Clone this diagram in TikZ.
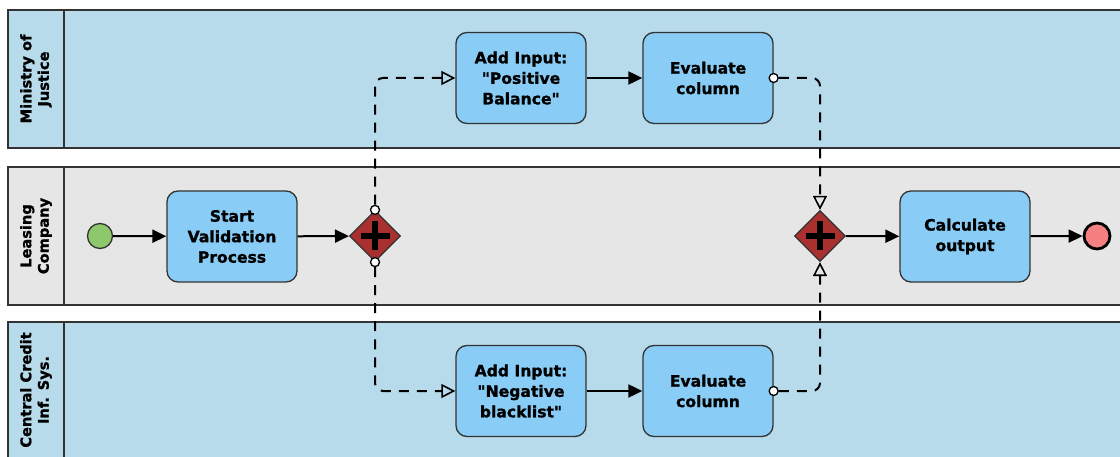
\documentclass[tikz,border=0pt]{standalone}
\usepackage{fontspec}
\setmainfont{DejaVu Sans}
\newfontfamily\heavysans[FakeBold=1.2]{DejaVu Sans Bold}
\usetikzlibrary{arrows.meta,shapes.geometric}

\definecolor{laneblue}{HTML}{B7DBEA}
\definecolor{lanegray}{HTML}{E6E6E6}
\definecolor{boxblue}{HTML}{89CCF6}
\definecolor{gwred}{HTML}{A8302E}
\definecolor{startgreen}{HTML}{8DC86D}
\definecolor{endred}{HTML}{F58080}
\definecolor{edgegray}{HTML}{333333}

\newcommand\taskfont{\heavysans\fontsize{15.6}{20.5}\selectfont}
\newcommand\lanefont{\heavysans\fontsize{14.6}{17.5}\selectfont}
\newcommand\dq{\textquotedbl}

\begin{document}
\begin{tikzpicture}[x=1pt,y=-1pt,
  lane/.style={draw=edgegray, line width=1.4pt},
  lanelabel/.style={rotate=90, align=center, font=\lanefont, inner sep=0pt},
  task/.style={rectangle, rounded corners=11pt, draw=edgegray, line width=1.3pt,
    fill=boxblue, minimum width=130pt, minimum height=91pt, align=center,
    font=\taskfont, inner sep=2pt},
  gateway/.style={diamond, draw=edgegray, line width=1.2pt, fill=gwred,
    minimum width=51pt, minimum height=51pt, inner sep=0pt},
  plusbar/.style={line width=6.5pt, black},
  startev/.style={circle, draw=edgegray, line width=1.3pt, fill=startgreen,
    minimum size=25pt, inner sep=0pt},
  endev/.style={circle, draw=black, line width=2.8pt, fill=endred,
    minimum size=26pt, inner sep=0pt},
  portdot/.style={circle, draw=black, line width=1.3pt, fill=white,
    minimum size=9pt, inner sep=0pt},
  seq/.style={line width=2pt, -{Triangle[length=14pt,width=13pt]}},
  msgflow/.style={line width=2pt, dash pattern=on 10pt off 8pt,
    rounded corners=8pt, -{Triangle[open,length=14pt,width=14pt,line width=1.6pt]}}
]
\useasboundingbox (0,0) rectangle (1120,457);
\clip (0,0) rectangle (1120,457);

% pools and lanes
\draw[lane, fill=laneblue] (8,10) rectangle (1135,148);
\draw[lane] (64,10) -- (64,148);
\node[lanelabel] (lmj) at (36,79) {Ministry of\\Justice};

\draw[lane, fill=lanegray] (8,167) rectangle (1135,305);
\draw[lane] (64,167) -- (64,305);
\node[lanelabel] (llc) at (36,236) {Leasing\\Company};

\draw[lane, fill=laneblue] (8,322) rectangle (1135,475);
\draw[lane] (64,322) -- (64,475);
\node[lanelabel] (lcc) at (36,390) {Central Credit\\Inf. Sys.};

% events, tasks and gateways
\node[startev] (s) at (100,236) {};
\node[task] (t1) at (232,236.5) {Start\\Validation\\Process};
\node[gateway] (g1) at (375,236) {};
\node[task] (t2) at (521,78) {Add Input:\\\dq Positive\\Balance\dq};
\node[task] (t3) at (708,78) {Evaluate\\column};
\node[task] (t4) at (521,391) {Add Input:\\\dq Negative\\blacklist\dq};
\node[task] (t5) at (708,391) {Evaluate\\column};
\node[gateway] (g2) at (820,236) {};
\node[task] (t6) at (965,236.5) {Calculate\\output};
\node[endev] (e) at (1097,236) {};

% parallel gateway markers
\foreach \g in {g1,g2}{
  \draw[plusbar] (\g.center) +(-14.5,0) -- +(14.5,0);
  \draw[plusbar] (\g.center) +(0,-14.5) -- +(0,14.5);
}

% sequence flows
\draw[seq] (s) -- (t1);
\draw[seq] (t1) -- (g1);
\draw[seq] (t2) -- (t3);
\draw[seq] (t4) -- (t5);
\draw[seq] (g2) -- (t6);
\draw[seq] (t6) -- (e);

% message flows
\node[portdot] (d1) at (g1.north) {};
\node[portdot] (d2) at (g1.south) {};
\node[portdot] (d3) at (t3.east) {};
\node[portdot] (d4) at (t5.east) {};
\draw[msgflow] (d1.north) |- (t2.west);
\draw[msgflow] (d2.south) |- (t4.west);
\draw[msgflow] (d3.east) -| (g2.north);
\draw[msgflow] (d4.east) -| (g2.south);
\end{tikzpicture}
\end{document}
